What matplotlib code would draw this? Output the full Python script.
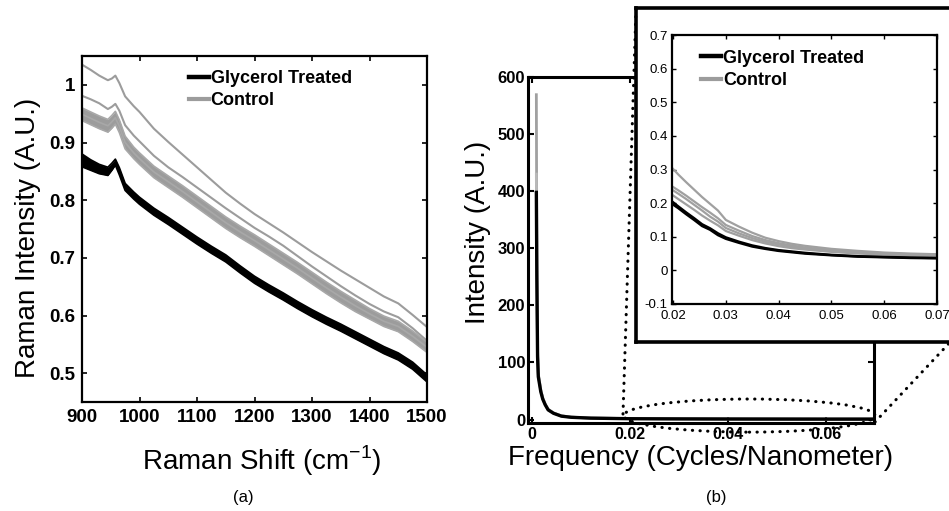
import numpy as np
import matplotlib
matplotlib.use("Agg")
import matplotlib.pyplot as plt
from matplotlib.lines import Line2D
from matplotlib.patches import Ellipse

plt.rcParams['font.family'] = ['Liberation Sans', 'DejaVu Sans']
plt.rcParams['mathtext.fontset'] = 'custom'
plt.rcParams['mathtext.rm'] = 'Liberation Sans'

###############################################################################
# Dados - painel (a): espectros Raman
raman_x = [900, 915, 930, 945, 952, 958, 965, 975, 990, 1000, 1025, 1050, 1075, 1100, 1125,
           1150, 1175, 1200, 1225, 1250, 1275, 1300, 1325, 1350, 1375, 1400, 1425, 1450, 1475, 1500]
black_hi = [.880, .870, .862, .857, .864, .871, .856, .829, .814, .805, .786, .770, .753, .736, .720,
            .705, .686, .668, .653, .639, .624, .610, .597, .585, .572, .559, .546, .535, .519, .497]
black_mid = [.869, .861, .854, .850, .858, .866, .850, .823, .808, .799, .780, .764, .747, .730, .714,
             .699, .680, .662, .647, .633, .618, .604, .591, .579, .566, .553, .540, .529, .513, .491]
black_lo = [.858, .852, .846, .843, .852, .861, .844, .817, .802, .793, .774, .758, .741, .724, .708,
            .693, .674, .656, .641, .627, .612, .598, .585, .573, .560, .547, .534, .523, .507, .485]
gray_hi = [.960, .953, .946, .940, .947, .954, .939, .911, .892, .882, .859, .842, .825, .807, .789,
           .771, .755, .740, .724, .708, .692, .675, .658, .642, .627, .612, .599, .590, .573, .554]
gray_mid = [.949, .942, .935, .929, .936, .943, .928, .900, .882, .872, .849, .832, .815, .797, .779,
            .761, .745, .730, .714, .698, .682, .665, .648, .632, .617, .603, .590, .581, .564, .545]
gray_lo = [.938, .931, .924, .918, .925, .932, .917, .889, .872, .862, .839, .822, .805, .787, .769,
           .751, .735, .720, .704, .688, .672, .655, .638, .622, .607, .594, .581, .572, .555, .536]
gray_2 = [.981, .975, .968, .958, .962, .967, .955, .930, .912, .902, .877, .857, .840, .822, .804,
          .786, .769, .752, .737, .721, .703, .685, .668, .651, .635, .620, .607, .597, .578, .556]
gray_top = [1.035, 1.026, 1.016, 1.008, 1.011, 1.016, 1.003, .980, .963, .953, .924, .901, .879, .857, .835,
            .813, .794, .776, .760, .744, .727, .710, .694, .678, .663, .648, .633, .621, .601, .580]

raman_xticks = [900, 1000, 1100, 1200, 1300, 1400, 1500]
raman_yticks = [0.5, 0.6, 0.7, 0.8, 0.9, 1.0]
raman_ylabels = ['0.5', '0.6', '0.7', '0.8', '0.9', '1']

# Dados - painel (b): FFT
fft_x = [0.0009, 0.001, 0.00115, 0.0013, 0.0018, 0.0022, 0.0027, 0.0033, 0.0044, 0.006, 0.008,
         0.012, 0.02, 0.03, 0.04, 0.05, 0.06, 0.07]
fft_black = [398, 250, 110, 75, 49, 36, 26, 17, 11, 6, 4, 2.5, 1.5, 1.2, 1.0, 0.9, 0.8, 0.8]
fft_gray = [569, 280, 120, 80, 52, 38, 27, 18, 11.5, 6.5, 4.2, 2.7, 1.7, 1.3, 1.1, 1.0, 0.9, 0.9]
fft_gray2 = [430, 260, 115, 78, 51, 37, 27, 18, 11.5, 6.5, 4.2, 2.7, 1.7, 1.3, 1.1, 1.0, 0.9, 0.9]
fft_xticks = [0, 0.02, 0.04, 0.06]
fft_xlabels = ['0', '0.02', '0.04', '0.06']
fft_yticks = [0, 100, 200, 300, 400, 500, 600]

# Dados - inset (zoom 0.02-0.07)
ins_x = [0.0198, 0.021, 0.0225, 0.024, 0.0255, 0.027, 0.0285, 0.03, 0.0325, 0.035, 0.0375, 0.04,
         0.0425, 0.045, 0.05, 0.055, 0.06, 0.065, 0.07]
ins_black1 = [.198, .185, .167, .150, .132, .121, .105, .094, .082, .071, .064, .058, .054, .050, .045, .041, .039, .037, .036]
ins_black2 = [.205, .190, .172, .155, .137, .125, .110, .098, .085, .074, .066, .060, .056, .052, .046, .042, .040, .038, .037]
ins_gray1 = [.305, .285, .262, .240, .218, .198, .178, .150, .130, .112, .097, .087, .079, .073, .064, .058, .053, .050, .048]
ins_gray2 = [.250, .238, .222, .205, .188, .172, .155, .135, .118, .102, .090, .081, .074, .068, .060, .055, .051, .048, .046]
ins_gray3 = [.240, .228, .212, .195, .178, .160, .145, .126, .110, .096, .085, .077, .070, .065, .058, .053, .049, .046, .045]
ins_gray4 = [.225, .212, .196, .180, .163, .148, .134, .117, .103, .090, .080, .072, .066, .062, .055, .050, .047, .045, .044]
ins_xticks = [0.02, 0.03, 0.04, 0.05, 0.06, 0.07]
ins_yticks = [-0.1, 0, 0.1, 0.2, 0.3, 0.4, 0.5, 0.6, 0.7]
ins_ylabels = ['-0.1', '0', '0.1', '0.2', '0.3', '0.4', '0.5', '0.6', '0.7']

CINZA = '#9c9c9c'
W, H = 949, 511

def rect(l, t, r, b):
    # pixels -> fração da figura
    return [l / W, 1 - b / H, (r - l) / W, (b - t) / H]

###############################################################################
fig = plt.figure(figsize=(9.49, 5.11), dpi=100)

# (a) Raman
ax1 = fig.add_axes(rect(82, 56, 427, 402))
ax1.plot(raman_x, gray_top, color=CINZA, lw=1.5)
ax1.plot(raman_x, gray_2, color=CINZA, lw=1.5)
ax1.fill_between(raman_x, gray_lo, gray_hi, color=CINZA, lw=0)
for g in (gray_hi, gray_mid, gray_lo):
    ax1.plot(raman_x, g, color='#a8a8a8', lw=1.2)
ax1.fill_between(raman_x, black_lo, black_hi, color='black', lw=0)
for b in (black_hi, black_mid, black_lo):
    ax1.plot(raman_x, b, color='black', lw=1.3)
ax1.set_xlim(900, 1500)
ax1.set_ylim(0.45, 1.05)
ax1.set_xticks(raman_xticks)
ax1.set_yticks(raman_yticks)
ax1.set_yticklabels(raman_ylabels)
ax1.tick_params(direction='in', top=True, right=True, length=3.5, width=1.2, pad=5,
                labelsize=13.5)
for lab in ax1.get_xticklabels() + ax1.get_yticklabels():
    lab.set_fontweight('bold')
for s in ax1.spines.values():
    s.set_linewidth(1.6)
ax1.set_xlabel('Raman Shift (cm$^{\\mathrm{-1}}$)', fontsize=20)
ax1.xaxis.set_label_coords(0.52, -0.12)
ax1.set_ylabel('Raman Intensity (A.U.)', fontsize=20)
ax1.yaxis.set_label_coords(-0.118, 0.475)
h1 = [Line2D([], [], color='black', lw=3.2), Line2D([], [], color=CINZA, lw=3)]
ax1.legend(h1, ['Glycerol Treated', 'Control'], loc='upper left', bbox_to_anchor=(0.31, 0.96),
           frameon=False, borderpad=0, borderaxespad=0, handlelength=1.1, handletextpad=0.1,
           labelspacing=0.3, prop={'size': 13, 'weight': 'bold'})

# (b) FFT
ax2 = fig.add_axes(rect(528, 77, 874, 423))
ax2.set_zorder(1)
ax2.plot(fft_x, fft_gray, color='#a0a0a0', lw=2)
ax2.plot(fft_x, fft_gray2, color='#b8b8b8', lw=2)
ax2.plot(fft_x, fft_black, color='black', lw=2.4)
ax2.set_xlim(-0.0008, 0.0697)
ax2.set_ylim(-6, 600)
ax2.set_xticks(fft_xticks)
ax2.set_xticklabels(fft_xlabels)
ax2.set_yticks(fft_yticks)
ax2.tick_params(direction='in', top=True, right=True, length=4, width=1.5, labelsize=12)
ax2.tick_params(axis='y', pad=2)
ax2.tick_params(axis='x', pad=3, labelsize=11.5)
for lab in ax2.get_xticklabels() + ax2.get_yticklabels():
    lab.set_fontweight('bold')
for s in ax2.spines.values():
    s.set_linewidth(2.2)
ax2.set_xlabel('Frequency (Cycles/Nanometer)', fontsize=20)
ax2.xaxis.set_label_coords(0.5, -0.063)
ax2.set_ylabel('Intensity (A.U.)', fontsize=20)
ax2.yaxis.set_label_coords(-0.106, 0.55)

# elipse pontilhada
ell = Ellipse((0.0443, 7), 0.0512, 58, fill=False, ec='black', lw=2.2,
              linestyle=(0, (0.1, 2.4)), clip_on=False, zorder=3)
ell.set_capstyle('round')
ax2.add_patch(ell)

# caixa do inset
frame = fig.add_axes(rect(636, 8, 965, 342))
frame.set_zorder(3)
frame.set_xticks([])
frame.set_yticks([])
for s in frame.spines.values():
    s.set_linewidth(2.6)

ax3 = fig.add_axes(rect(672, 35, 937, 304))
ax3.set_zorder(4)
for g in (ins_gray1, ins_gray2, ins_gray3, ins_gray4):
    ax3.plot(ins_x, g, color='#a0a0a0', lw=1.6)
for b in (ins_black1, ins_black2):
    ax3.plot(ins_x, b, color='black', lw=1.8)
ax3.set_xlim(0.0198, 0.07)
ax3.set_ylim(-0.1, 0.7)
ax3.set_xticks(ins_xticks)
ax3.set_yticks(ins_yticks)
ax3.set_yticklabels(ins_ylabels)
ax3.tick_params(direction='in', top=True, right=True, length=3, width=1, labelsize=9.5)
ax3.tick_params(axis='y', pad=3)
ax3.tick_params(axis='x', pad=4)
for s in ax3.spines.values():
    s.set_linewidth(1.6)
h3 = [Line2D([], [], color='black', lw=3.2), Line2D([], [], color=CINZA, lw=3)]
ax3.legend(h3, ['Glycerol Treated', 'Control'], loc='upper left', bbox_to_anchor=(0.11, 0.945),
           frameon=False, borderpad=0, borderaxespad=0, handlelength=1.1, handletextpad=0.1,
           labelspacing=0.3, prop={'size': 13, 'weight': 'bold'})

# linhas pontilhadas de ligação
for (x0, y0, x1, y1) in [(623, 414, 636, 9), (875, 422, 955, 337)]:
    ln = Line2D([x0 / W, x1 / W], [1 - y0 / H, 1 - y1 / H], transform=fig.transFigure,
                color='black', lw=2.2, linestyle=(0, (0.1, 2.4)), dash_capstyle='round', zorder=5)
    fig.add_artist(ln)

fig.text(243 / W, 1 - 497 / H, '(a)', ha='center', va='center', fontsize=12)
fig.text(716 / W, 1 - 497 / H, '(b)', ha='center', va='center', fontsize=12)

plt.savefig('out.png', dpi=100)
